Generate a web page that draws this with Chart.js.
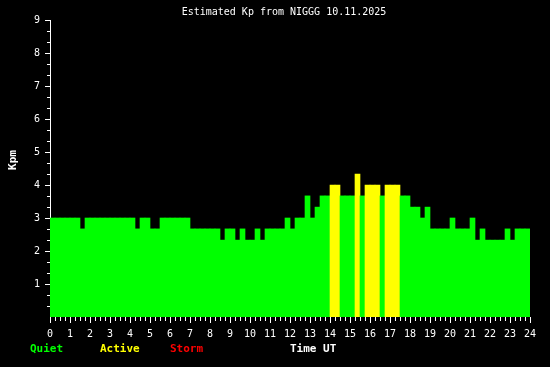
<!DOCTYPE html>
<html lang="en">
<head>
    <meta charset="UTF-8">
    <title>Estimated Kp from NIGGG 10.11.2025</title>
    <style>
        * { margin: 0; padding: 0; box-sizing: border-box; }
        body { background: #000; }
        .wrap { width: 550px; height: 367px; position: relative; background: #000; }
    </style>
    <script src="https://cdn.jsdelivr.net/npm/chart.js"></script>
</head>
<body>
    <div class="wrap"><canvas id="kpChart"></canvas></div>

    <script>
        // Kp estimate per 15-minute interval, 00:00 - 24:00 UT
        const kpValues = [
            3, 3, 3, 3, 3, 3, 2.67, 3, 3, 3, 3, 3, 3, 3, 3, 3, 3, 2.67, 3, 3, 2.67, 2.67, 3, 3,
            3, 3, 3, 3, 2.67, 2.67, 2.67, 2.67, 2.67, 2.67, 2.33, 2.67, 2.67, 2.33, 2.67, 2.33, 2.33, 2.67, 2.33, 2.67,
            2.67, 2.67, 2.67, 3, 2.67, 3, 3, 3.67, 3, 3.33, 3.67, 3.67, 4, 4, 3.67, 3.67, 3.67, 4.33, 3.67, 4,
            4, 4, 3.67, 4, 4, 4, 3.67, 3.67, 3.33, 3.33, 3, 3.33, 2.67, 2.67, 2.67, 2.67, 3, 2.67, 2.67, 2.67,
            3, 2.33, 2.67, 2.33, 2.33, 2.33, 2.33, 2.67, 2.33, 2.67, 2.67, 2.67
        ];
        const slotLabels = kpValues.map((_, i) => {
            const h = Math.floor(i / 4), m = (i % 4) * 15;
            return String(h).padStart(2, '0') + ':' + String(m).padStart(2, '0');
        });
        const hourTicks = [0, 1, 2, 3, 4, 5, 6, 7, 8, 9, 10, 11, 12, 13, 14, 15, 16, 17, 18, 19, 20, 21, 22, 23, 24];
        const kpTicks = [1, 2, 3, 4, 5, 6, 7, 8, 9];
        const legendItems = [
            { text: 'Quiet', color: '#00ff00', x: 30 },
            { text: 'Active', color: '#ffff00', x: 100 },
            { text: 'Storm', color: '#ff0000', x: 170 },
            { text: 'Time UT', color: '#ffffff', x: 290 }
        ];

        function kpColor(v) {
            if (v >= 5) return '#ff0000';
            if (v >= 4) return '#ffff00';
            return '#00ff00';
        }

        const MONO = '"DejaVu Sans Mono", "Liberation Mono", monospace';

        // minor ticks + text overlays
        const overlay = {
            id: 'overlay',
            afterDraw(chart) {
                const ctx = chart.ctx;
                const y = chart.scales.y, xh = chart.scales.xh;
                ctx.save();
                ctx.strokeStyle = '#fff';
                ctx.lineWidth = 1;
                ctx.beginPath();
                for (let v = 0; v < 9; v++) {
                    for (let k = 1; k < 3; k++) {
                        const py = Math.round(y.getPixelForValue(v + k / 3)) + 0.5;
                        ctx.moveTo(y.right - 3, py);
                        ctx.lineTo(y.right, py);
                    }
                }
                for (let h = 0; h < 24; h++) {
                    for (let k = 1; k < 4; k++) {
                        const px = Math.round(xh.getPixelForValue(h + k / 4)) + 0.5;
                        ctx.moveTo(px, xh.top);
                        ctx.lineTo(px, xh.top + 4);
                    }
                }
                ctx.stroke();

                ctx.fillStyle = '#fff';
                ctx.font = '10px ' + MONO;
                ctx.textAlign = 'center';
                ctx.textBaseline = 'middle';
                ctx.fillText('Estimated Kp from NIGGG 10.11.2025', 284, 12);

                ctx.font = 'bold 11px ' + MONO;
                ctx.textAlign = 'left';
                legendItems.forEach(it => {
                    ctx.fillStyle = it.color;
                    ctx.fillText(it.text, it.x, 349);
                });

                ctx.fillStyle = '#fff';
                ctx.translate(13, 160);
                ctx.rotate(-Math.PI / 2);
                ctx.textAlign = 'center';
                ctx.fillText('Kpm', 0, 0);
                ctx.restore();
            }
        };

        new Chart(document.getElementById('kpChart'), {
            type: 'bar',
            data: {
                labels: slotLabels,
                datasets: [{
                    data: kpValues,
                    backgroundColor: ctx => kpColor(ctx.raw),
                    borderWidth: 0,
                    barPercentage: 1,
                    categoryPercentage: 1
                }]
            },
            options: {
                responsive: true,
                maintainAspectRatio: false,
                animation: false,
                events: [],
                layout: { padding: { top: 20, right: 20, left: 0, bottom: 0 } },
                plugins: {
                    legend: { display: false },
                    title: { display: false },
                    tooltip: { enabled: false }
                },
                scales: {
                    x: {
                        display: false,
                        offset: true
                    },
                    xh: {
                        type: 'linear',
                        position: 'bottom',
                        offset: false,
                        min: 0,
                        max: 24,
                        afterBuildTicks: s => { s.ticks = hourTicks.map(v => ({ value: v })); },
                        afterFit: s => { s.height = 50; },
                        border: { display: false },
                        grid: { drawOnChartArea: false, offset: false, color: '#fff', tickLength: 6 },
                        ticks: {
                            color: '#fff',
                            padding: 5,
                            maxRotation: 0,
                            autoSkip: false,
                            font: { family: MONO, size: 10 }
                        }
                    },
                    y: {
                        min: 0,
                        max: 9,
                        afterBuildTicks: s => { s.ticks = kpTicks.map(v => ({ value: v })); },
                        afterFit: s => { s.width = 50; },
                        border: { display: true, color: '#fff' },
                        grid: { drawOnChartArea: false, color: '#fff', tickLength: 5 },
                        ticks: {
                            color: '#fff',
                            padding: 5,
                            font: { family: MONO, size: 10 }
                        }
                    }
                }
            },
            plugins: [overlay]
        });
    </script>
</body>
</html>
